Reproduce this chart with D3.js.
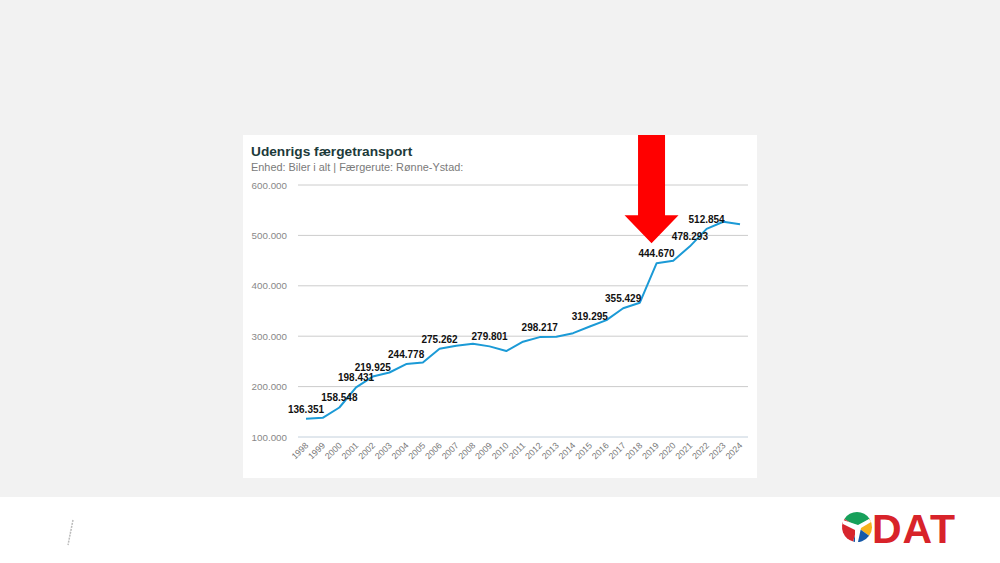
<!DOCTYPE html>
<html>
<head>
<meta charset="utf-8">
<script src="https://cdn.jsdelivr.net/npm/d3@7"></script>
<style>
  body { margin: 0; background: #fff; }
  svg { display: block; font-family: "Liberation Sans", Arial, sans-serif; }
</style>
</head>
<body>
<script>
// Cars on the Rønne-Ystad route, per year
const years = [1998, 1999, 2000, 2001, 2002, 2003, 2004, 2005, 2006, 2007, 2008, 2009, 2010,
               2011, 2012, 2013, 2014, 2015, 2016, 2017, 2018, 2019, 2020, 2021, 2022, 2023, 2024];
const cars = [136351, 138000, 158548, 198431, 219925, 228000, 244778, 248000, 275262, 281000,
              285000, 279801, 270600, 289000, 298217, 299000, 306000, 319295, 332000, 355429,
              366500, 444670, 449800, 478293, 512854, 527000, 522000];
// years that get a value label in the original
const labelYears = [1998, 2000, 2001, 2002, 2004, 2006, 2009, 2012, 2015, 2017, 2019, 2021, 2022];
const yTicks = [100000, 200000, 300000, 400000, 500000, 600000];

const title = "Udenrigs færgetransport";
const subtitle = "Enhed: Biler i alt | Færgerute: Rønne-Ystad:";

const W = 1000, H = 563;
const svg = d3.select("body").append("svg")
    .attr("width", W)
    .attr("height", H);

// slide background
svg.append("rect").attr("width", W).attr("height", 497).attr("fill", "#f2f2f2");

// chart panel
svg.append("rect")
    .attr("x", 243).attr("y", 135)
    .attr("width", 514).attr("height", 343)
    .attr("fill", "#fff");

svg.append("text")
    .attr("x", 251).attr("y", 156)
    .attr("font-size", 13.7).attr("font-weight", "bold")
    .attr("fill", "#1c3a3a")
    .text(title);

svg.append("text")
    .attr("x", 251).attr("y", 171)
    .attr("font-size", 10.9)
    .attr("fill", "#7a7a7a")
    .text(subtitle);

const x = d3.scalePoint().domain(years).range([306, 740]);
const y = d3.scaleLinear().domain([100000, 600000]).range([437, 185]);

const fmt = v => d3.format(",")(v).replace(/,/g, ".");

// grid + y labels
const grid = svg.append("g");
grid.selectAll("line")
  .data(yTicks)
  .enter().append("line")
    .attr("x1", 298).attr("x2", 748)
    .attr("y1", d => y(d)).attr("y2", d => y(d))
    .attr("stroke", d => d === 100000 ? "#c3d0dc" : "#cccccc")
    .attr("stroke-width", 1);

grid.selectAll("text")
  .data(yTicks)
  .enter().append("text")
    .attr("x", 287).attr("y", d => y(d) + 3.5)
    .attr("text-anchor", "end")
    .attr("font-size", 9.8)
    .attr("fill", "#888")
    .text(fmt);

// x labels, rotated
svg.append("g").selectAll("text")
  .data(years)
  .enter().append("text")
    .attr("transform", d => `translate(${x(d) + 3},${446}) rotate(-45)`)
    .attr("text-anchor", "end")
    .attr("font-size", 8.8)
    .attr("fill", "#777")
    .text(d => d);

// the line
const pts = years.map((yr, i) => ({ year: yr, value: cars[i] }));
svg.append("path")
    .datum(pts)
    .attr("fill", "none")
    .attr("stroke", "#1b9ad6")
    .attr("stroke-width", 2)
    .attr("stroke-linejoin", "round")
    .attr("d", d3.line().x(d => x(d.year)).y(d => y(d.value)));

// value labels
svg.append("g").selectAll("text")
  .data(pts.filter(d => labelYears.includes(d.year)))
  .enter().append("text")
    .attr("x", d => x(d.year))
    .attr("y", d => y(d.value) - 6)
    .attr("text-anchor", "middle")
    .attr("font-size", 10).attr("font-weight", "bold")
    .attr("fill", "#111")
    .text(d => fmt(d.value));

// red arrow pointing at 2019
const ax = x(2019) - 5, tipY = y(444670) - 20;
svg.append("path")
    .attr("d", `M${ax - 13.5},135 H${ax + 13.5} V${tipY - 28} H${ax + 27} L${ax},${tipY} L${ax - 27},${tipY - 28} H${ax - 13.5} Z`)
    .attr("fill", "#ff0000");

// small mark bottom-left
svg.append("line")
    .attr("x1", 73).attr("y1", 520).attr("x2", 68).attr("y2", 545)
    .attr("stroke", "#bbb").attr("stroke-width", 1.5)
    .attr("stroke-dasharray", "2,1");

// DAT logo
const logo = svg.append("g").attr("transform", "translate(857,527)");
const arc = d3.arc().innerRadius(0).outerRadius(15);
const segs = [
  { a0: -1.0, a1: 1.0, c: "#17a05a" },
  { a0: 1.0, a1: 2.2, c: "#f6b21b" },
  { a0: 2.2, a1: 3.4, c: "#1559a8" },
  { a0: 3.4, a1: 5.28, c: "#d7262e" }
];
logo.selectAll("path")
  .data(segs)
  .enter().append("path")
    .attr("d", d => arc({ startAngle: d.a0, endAngle: d.a1 }))
    .attr("fill", d => d.c);
// white plane shape
logo.append("path")
    .attr("d", "M-14,-7 L1,-2 L12,-8 L14,-5 L4,1 L1,15 L-2,15 L-2,3 L-14,-3 Z")
    .attr("fill", "#fff");

svg.append("text")
    .attr("x", 872).attr("y", 543)
    .attr("font-size", 41).attr("font-weight", "bold")
    .attr("fill", "#d8232a")
    .attr("textLength", 83)
    .text("DAT");
</script>
</body>
</html>
